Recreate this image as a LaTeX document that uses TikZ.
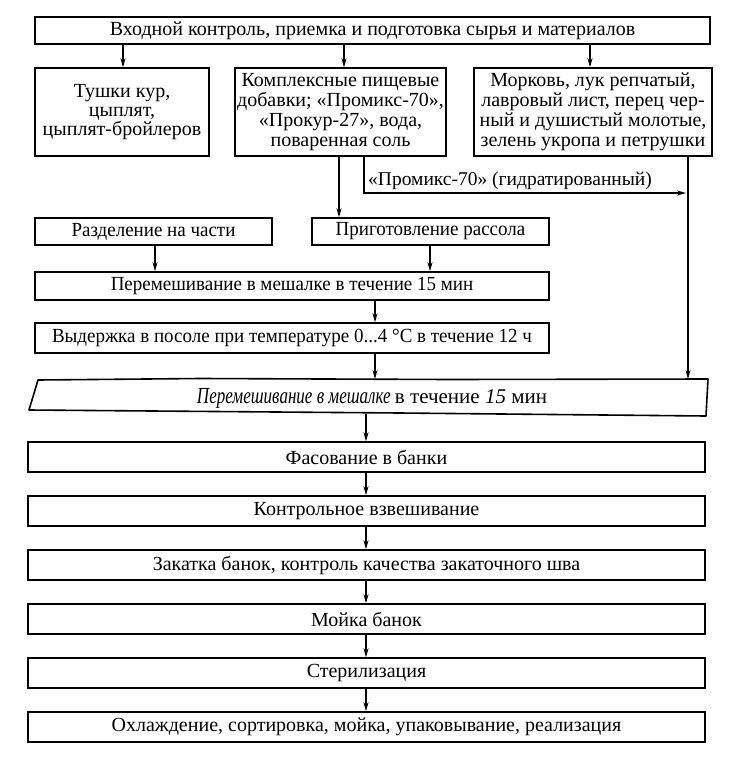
\documentclass[tikz,border=0pt]{standalone}
\usepackage{fontspec}
\setmainfont{Liberation Serif}
\newfontfamily\condfont[FakeStretch=0.95]{Liberation Serif}
\newfontfamily\italcond[FakeStretch=0.74]{Liberation Serif Italic}
\usetikzlibrary{arrows.meta,calc}
\tikzset{
  box/.style={draw, line width=1.5pt, rectangle, inner sep=0pt, align=center,
    font=\fontsize{20}{20}\selectfont},
  cbox/.style={box, font=\condfont\fontsize{20}{20}\selectfont},
  arr/.style={line width=1.1pt, -{Stealth[length=9pt,width=5pt]}},
}
\begin{document}
\begin{tikzpicture}[x=1pt,y=-1pt]
\useasboundingbox (0,0) rectangle (732,758);
% top
\node[box, minimum width=675, minimum height=27] (top) at (372.5,30.5) {Входной контроль, приемка и подготовка сырья и материалов};
% row 2
\node[box, minimum width=174, minimum height=88] (A) at (122,112) {Тушки кур,\\[-1pt]цыплят,\\[-1pt]цыплят-бройлеров};
\node[box, minimum width=211, minimum height=88] (B) at (340.5,112) {Комплексные пищевые\\добавки; «Промикс-70»,\\«Прокур-27», вода,\\поваренная соль};
\node[box, minimum width=238, minimum height=88] (C) at (593,112) {Морковь, лук репчатый,\\лавровый лист, перец чер-\\ный и душистый молотые,\\зелень укропа и петрушки};
% row 3
\node[cbox, minimum width=237, minimum height=27] (R) at (153.5,231.5) {Разделение на части};
\node[cbox, minimum width=237, minimum height=27] (P) at (430.5,231.5) {Приготовление рассола};
\node[cbox, minimum width=514, minimum height=28] (M1) at (292,286) {Перемешивание в мешалке в течение 15 мин};
\node[cbox, minimum width=514, minimum height=30] (V) at (292,338) {Выдержка в посоле при температуре 0...4 °С в течение 12 ч};
% wavy box
\draw[line width=1.6pt, line join=round] (38,380) -- (200,378.5) -- (450,379.5) -- (708,379) -- (706,416) -- (400,413) -- (29,410) -- cycle;
\node[inner sep=0pt, font=\fontsize{21}{22}\selectfont] (W) at (372,398) {{\italcond\fontsize{23}{22}\selectfont Перемешивание в~мешалке }в течение {\itshape 15} мин};
\coordinate (Wt) at (375,379);
\coordinate (Wr) at (688,379);
\coordinate (Wb) at (366,414);
% lower chain
\node[box, minimum width=677, minimum height=30] (F) at (366.5,457) {Фасование в банки};
\node[box, minimum width=677, minimum height=30] (K) at (366.5,511) {Контрольное взвешивание};
\node[box, minimum width=677, minimum height=30] (Z) at (366.5,565) {Закатка банок, контроль качества закаточного шва};
\node[box, minimum width=677, minimum height=30] (Mo) at (366.5,619) {Мойка банок};
\node[box, minimum width=677, minimum height=30] (S) at (366.5,673) {Стерилизация};
\node[box, minimum width=677, minimum height=30] (O) at (366.5,727) {Охлаждение, сортировка, мойка, упаковывание, реализация};
% arrows from top
\draw[arr] (top.south -| 123,0) -- (123,0 |- A.north);
\draw[arr] (top.south -| 344,0) -- (344,0 |- B.north);
\draw[arr] (top.south -| 590,0) -- (590,0 |- C.north);
% B to P
\draw[arr] (B.south -| 339,0) -- (339,0 |- P.north);
% Promiks branch
\coordinate (pm) at (686,193);
\draw[arr] (B.south -| 364,0) -- (364,193) -- (pm);
\node[anchor=south west, font=\fontsize{19.5}{20}\selectfont, inner sep=1pt] (lbl) at (367,191) {«Промикс-70» (гидратированный)};
% C down to wavy
\draw[arr] (C.south -| Wr) -- (Wr);
% row3 to M1
\draw[arr] (R.south -| 155,0) -- (155,0 |- M1.north);
\draw[arr] (P.south -| 430,0) -- (430,0 |- M1.north);
\draw[arr] (M1.south -| 375,0) -- (375,0 |- V.north);
\draw[arr] (V.south -| Wt) -- (Wt);
\draw[arr] (Wb) -- (Wb |- F.north);
\draw[arr] (F.south -| Wb) -- (Wb |- K.north);
\draw[arr] (K.south -| Wb) -- (Wb |- Z.north);
\draw[arr] (Z.south -| Wb) -- (Wb |- Mo.north);
\draw[arr] (Mo.south -| Wb) -- (Wb |- S.north);
\draw[arr] (S.south -| Wb) -- (Wb |- O.north);
\end{tikzpicture}
\end{document}
